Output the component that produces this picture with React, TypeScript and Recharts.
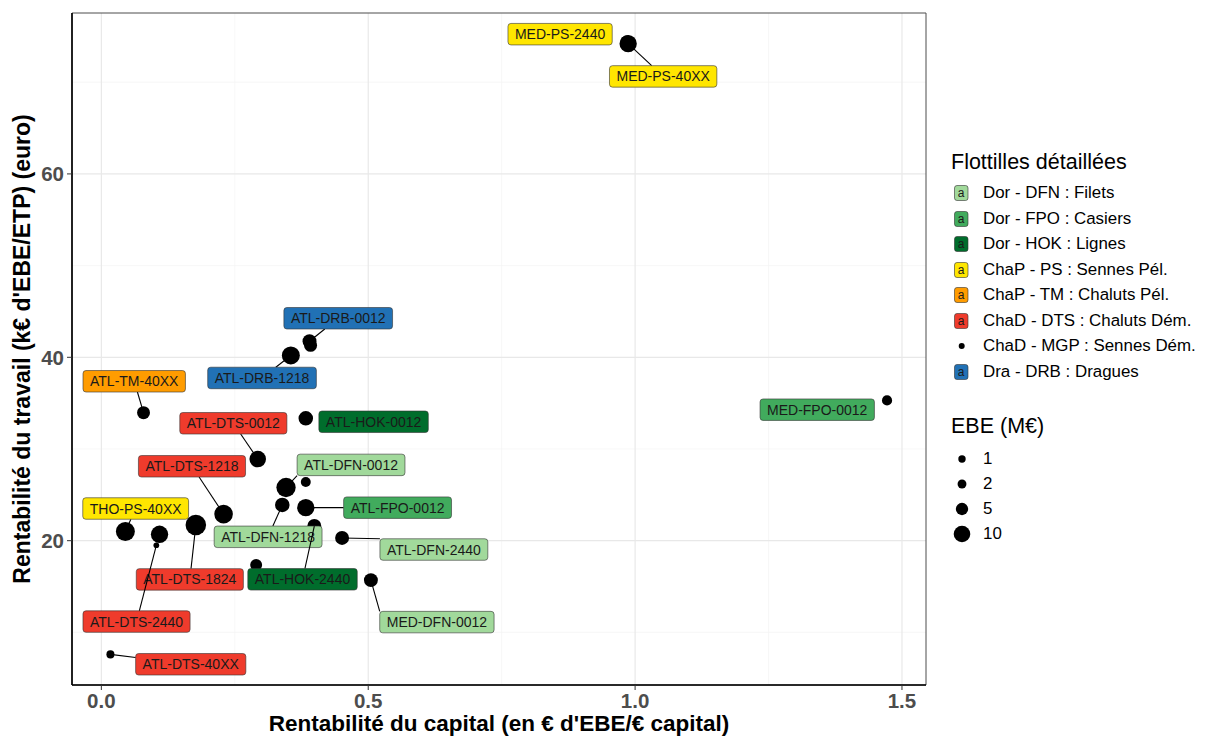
import React from "react";
import { ScatterChart, Scatter, XAxis, YAxis, ZAxis, CartesianGrid, ReferenceArea } from "recharts";

// one entry per vessel fleet (empty label = unlabelled MGP point)
const pointLabels = [
  "ATL-DFN-0012", "ATL-DFN-1218", "ATL-DFN-2440", "ATL-DRB-0012", "ATL-DRB-1218",
  "ATL-DTS-0012", "ATL-DTS-1218", "ATL-DTS-1824", "ATL-DTS-2440", "ATL-DTS-40XX",
  "ATL-FPO-0012", "ATL-HOK-0012", "ATL-HOK-2440", "ATL-TM-40XX", "MED-DFN-0012",
  "MED-FPO-0012", "MED-PS-2440", "MED-PS-40XX", "THO-PS-40XX",
  "", "", "", "",
];
const pointFleets = [
  "DFN", "DFN", "DFN", "DRB", "DRB",
  "DTS", "DTS", "DTS", "DTS", "DTS",
  "FPO", "HOK", "HOK", "TM", "DFN",
  "FPO", "PS", "PS", "PS",
  "MGP", "MGP", "MGP", "MGP",
];
// rentabilité du capital
const capitalReturn = [
  0.346, 0.339, 0.451, 0.39, 0.355,
  0.293, 0.229, 0.177, 0.103, 0.017,
  0.383, 0.383, 0.399, 0.079, 0.505,
  1.472, 0.985, 0.987, 0.045,
  0.392, 0.383, 0.29, 0.109,
];
// rentabilité du travail (k€)
const labourReturn = [
  25.8, 23.9, 20.3, 41.75, 40.2,
  28.9, 22.9, 21.7, 19.5, 7.6,
  23.6, 33.35, 21.6, 33.96, 15.7,
  35.3, 74.4, 74.2, 21.0,
  41.3, 26.4, 17.35, 20.7,
];
// EBE (M€)
const ebe = [
  14, 7.4, 6.7, 6.7, 12,
  10, 12.9, 16, 0.1, 1.4,
  11, 7.4, 6.7, 5.6, 6.7,
  3, 6, 11, 13.4,
  5.6, 2.8, 4.6, 11,
];

const fleetKeys = ["DFN", "FPO", "HOK", "PS", "TM", "DTS", "MGP", "DRB"];
const fleetNames = [
  "Dor - DFN : Filets",
  "Dor - FPO : Casiers",
  "Dor - HOK : Lignes",
  "ChaP - PS : Sennes Pél.",
  "ChaP - TM : Chaluts Pél.",
  "ChaD - DTS : Chaluts Dém.",
  "ChaD - MGP : Sennes Dém.",
  "Dra - DRB : Dragues",
];
const sizeBreaks = [1, 2, 5, 10];
const xTicks = [0, 0.5, 1, 1.5];
const yTicks = [20, 40, 60];
const xMinor = [0.25, 0.75, 1.25];
const yMinor = [10, 30, 50, 70];

const fleetColors: Record<string, string> = {
  DFN: "#a1d99b",
  FPO: "#41ab5d",
  HOK: "#006d2c",
  PS: "#ffe600",
  TM: "#ff9c00",
  DTS: "#ef3b2c",
  MGP: "#000000",
  DRB: "#2171b5",
};

// label placement (px from point to label centre) + whether a segment is drawn
const labelNudges: Record<string, [number, number, boolean]> = {
  "ATL-DFN-0012": [65, -22.6, true],
  "ATL-DFN-1218": [-14.2, 31.9, true],
  "ATL-DFN-2440": [91.8, 11.6, true],
  "ATL-DRB-0012": [28.7, -23, true],
  "ATL-DRB-1218": [-28.8, 22.5, true],
  "ATL-DTS-0012": [-24.4, -35.8, true],
  "ATL-DTS-1218": [-31.6, -47.8, true],
  "ATL-DTS-1824": [-6, 54.3, true],
  "ATL-DTS-2440": [-19.8, 76.3, true],
  "ATL-DTS-40XX": [80.3, 9.9, true],
  "ATL-FPO-0012": [91.8, 0, true],
  "ATL-HOK-0012": [67.8, 3.5, false],
  "ATL-HOK-2440": [-11.8, 53.3, true],
  "ATL-TM-40XX": [-9.3, -31.4, true],
  "MED-DFN-0012": [66, 42, true],
  "MED-FPO-0012": [-69.8, 9.3, false],
  "MED-PS-2440": [-67, -7.7, false],
  "MED-PS-40XX": [35, 32.7, true],
  "THO-PS-40XX": [10.3, -23, true],
};

const FONT = "'Liberation Sans', Arial, Helvetica, sans-serif";
const LABEL_FONT_SIZE = 14;

// point area grows linearly with EBE: 1 M€ -> 43 px², 10 M€ -> 216 px²
function sizeArea(z: number) {
  return 43 + ((216 - 43) * (z - 1)) / 9;
}
function sizeRadius(z: number) {
  return Math.sqrt(sizeArea(z) / Math.PI);
}
const zMin = Math.min(...ebe);
const zMax = Math.max(...ebe);

const rows = pointLabels.map((label, i) => ({
  label,
  fleet: pointFleets[i],
  x: capitalReturn[i],
  y: labourReturn[i],
  z: ebe[i],
}));
const labelled = rows.filter((r) => r.label !== "");

let measureCtx: CanvasRenderingContext2D | null = null;
function textWidth(t: string) {
  if (!measureCtx) measureCtx = document.createElement("canvas").getContext("2d");
  if (!measureCtx) return t.length * 8;
  measureCtx.font = `${LABEL_FONT_SIZE}px ${FONT}`;
  return measureCtx.measureText(t).width;
}

const RepelLabel = (props: any) => {
  const { cx, cy, payload } = props;
  if (!payload || !payload.label || cx == null) return <g />;
  const [dx, dy, seg] = labelNudges[payload.label] || [0, 0, false];
  const w = textWidth(payload.label) + 14;
  const h = 21.5;
  const lx = cx + dx;
  const ly = cy + dy;
  const x1 = lx - w / 2, x2 = lx + w / 2, y1 = ly - h / 2, y2 = ly + h / 2;

  let end: [number, number] | null = null;
  if (seg) {
    const outX = cx < x1 || cx > x2;
    const outY = cy < y1 || cy > y2;
    if (outX && outY) {
      end = [cx < x1 ? x1 : x2, cy < y1 ? y1 : y2];
    } else {
      const s = Math.min(
        dx !== 0 ? w / 2 / Math.abs(dx) : Infinity,
        dy !== 0 ? h / 2 / Math.abs(dy) : Infinity
      );
      if (s < 1) end = [lx - s * dx, ly - s * dy];
    }
  }

  return (
    <g>
      {end && <line x1={cx} y1={cy} x2={end[0]} y2={end[1]} stroke="#000" strokeWidth={1.1} />}
      <rect x={x1} y={y1} width={w} height={h} rx={3} ry={3}
        fill={fleetColors[payload.fleet]} stroke="#333" strokeWidth={0.6} />
      <text x={lx} y={ly} textAnchor="middle" dominantBaseline="central"
        fontFamily={FONT} fontSize={LABEL_FONT_SIZE} fill="#1a1a1a">
        {payload.label}
      </text>
    </g>
  );
};

const xTitle = (props: any) => {
  const vb = props.viewBox || {};
  return (
    <text x={vb.x + vb.width / 2} y={vb.y + 46} textAnchor="middle"
      fontFamily={FONT} fontSize={22.5} fontWeight={700} fill="#000">
      Rentabilité du capital (en € d'EBE/€ capital)
    </text>
  );
};

const yTitle = (props: any) => {
  const vb = props.viewBox || {};
  const cx = 14;
  const cy = vb.y + vb.height / 2;
  return (
    <text x={cx} y={cy} textAnchor="middle" dominantBaseline="central"
      transform={`rotate(-90, ${cx}, ${cy})`}
      fontFamily={FONT} fontSize={23} fontWeight={700} fill="#000">
      Rentabilité du travail (k€ d'EBE/ETP) (euro)
    </text>
  );
};

const tickStyle = { fontSize: 20.5, fontWeight: 700, fill: "#4d4d4d", fontFamily: FONT };

function LegendPanel() {
  const base: React.CSSProperties = { position: "absolute", fontFamily: FONT, color: "#000", whiteSpace: "nowrap" };
  return (
    <div style={{ position: "absolute", left: 0, top: 0 }}>
      <div style={{ ...base, left: 943, top: 154 - 13, fontSize: 21.5, lineHeight: "26px" }}>Flottilles détaillées</div>
      {fleetKeys.map((k, i) => {
        const cy = 185 + i * 25.5;
        return (
          <React.Fragment key={k}>
            <svg style={{ position: "absolute", left: 944, top: cy - 10 }} width={18} height={20}>
              {k === "MGP" ? (
                <circle cx={9.7} cy={10} r={3} fill="#000" />
              ) : (
                <>
                  <rect x={2.5} y={2.5} width={13.5} height={15} rx={2.5} fill={fleetColors[k]} stroke="#333" strokeWidth={0.6} />
                  <text x={9.2} y={13.5} textAnchor="middle" fontFamily={FONT} fontSize={12} fill="#1a1a1a">a</text>
                </>
              )}
            </svg>
            <div style={{ ...base, left: 975, top: cy - 11, fontSize: 16.9, lineHeight: "22px" }}>{fleetNames[i]}</div>
          </React.Fragment>
        );
      })}
      <div style={{ ...base, left: 943, top: 418 - 13, fontSize: 21.5, lineHeight: "26px" }}>EBE (M€)</div>
      {sizeBreaks.map((s, i) => {
        const cy = 450.5 + i * 25.2;
        const r = sizeRadius(s);
        return (
          <React.Fragment key={s}>
            <svg style={{ position: "absolute", left: 944, top: cy - 10 }} width={20} height={20}>
              <circle cx={10} cy={10} r={r} fill="#000" />
            </svg>
            <div style={{ ...base, left: 975, top: cy - 11, fontSize: 16.9, lineHeight: "22px" }}>{s}</div>
          </React.Fragment>
        );
      })}
    </div>
  );
}

export default function App() {
  const xDomain = [-0.055, 1.545];
  const yDomain = [4.26, 77.55];
  return (
    <div style={{ position: "relative", width: 1199, height: 730, background: "#fff" }}>
      <ScatterChart width={1199} height={730} margin={{ top: 5, right: 281, bottom: 0, left: 0 }}>
        <CartesianGrid horizontalValues={yMinor} verticalValues={xMinor} stroke="#f3f3f3" strokeWidth={0.7} />
        <CartesianGrid horizontalValues={yTicks} verticalValues={xTicks} stroke="#e8e8e8" strokeWidth={1.2} />
        <ReferenceArea x1={xDomain[0]} x2={xDomain[1]} y1={yDomain[0]} y2={yDomain[1]}
          fill="none" stroke="#4d4d4d" strokeWidth={1} ifOverflow="visible" />
        <XAxis type="number" dataKey="x" domain={xDomain} ticks={xTicks} allowDataOverflow
          tickFormatter={(v: number) => v.toFixed(1)} height={53} tickSize={5} tickMargin={3}
          tick={tickStyle} tickLine={{ stroke: "#333" }} axisLine={{ stroke: "#000", strokeWidth: 1.6 }}
          label={{ content: xTitle }} />
        <YAxis type="number" dataKey="y" domain={yDomain} ticks={yTicks} allowDataOverflow
          width={64} tickSize={5} tickMargin={3}
          tick={tickStyle} tickLine={{ stroke: "#333" }} axisLine={{ stroke: "#000", strokeWidth: 1.6 }}
          label={{ content: yTitle }} />
        <ZAxis type="number" dataKey="z" domain={[zMin, zMax]} range={[sizeArea(zMin), sizeArea(zMax)]} />
        <Scatter data={rows} fill="#000" shape="circle" isAnimationActive={false} />
        <Scatter data={labelled} shape={RepelLabel} isAnimationActive={false} />
      </ScatterChart>
      <LegendPanel />
    </div>
  );
}
